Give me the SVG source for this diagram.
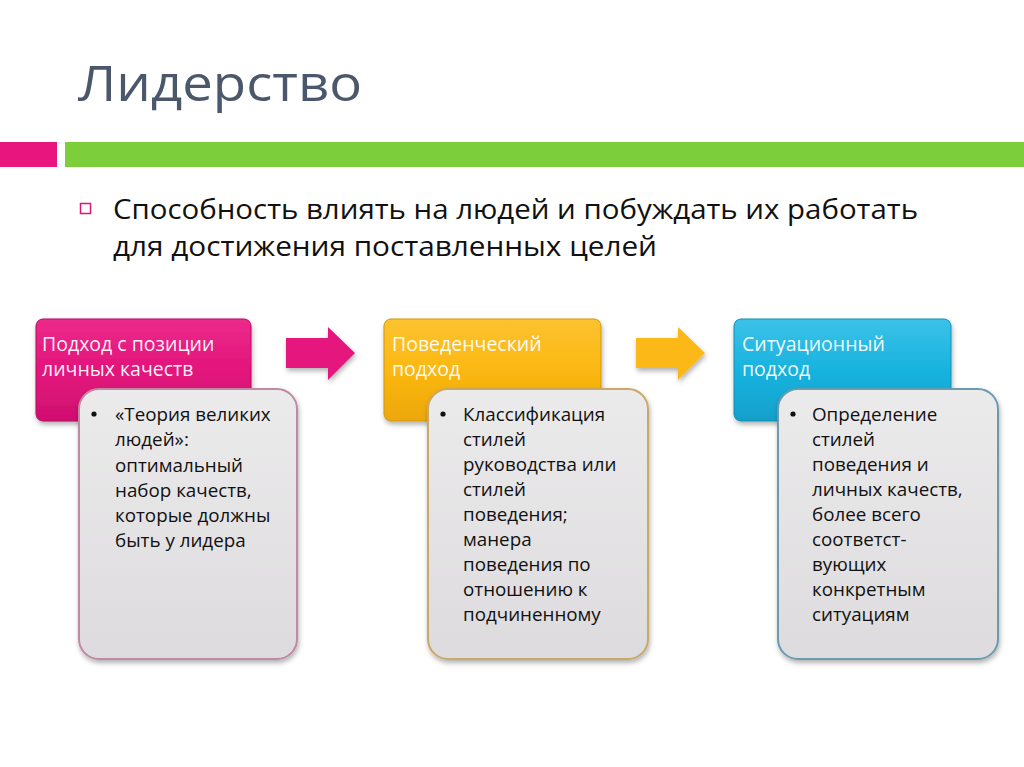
<svg xmlns="http://www.w3.org/2000/svg" width="1024" height="767" viewBox="0 0 1024 767">
<style>
.title{font-family:"Open Sans","Liberation Sans",sans-serif;font-size:50px;fill:#4b586b}
.sub{font-family:"Open Sans","Liberation Sans",sans-serif;font-size:28px;fill:#111}
.hdr{font-family:"Open Sans","Liberation Sans",sans-serif;font-size:19.5px;fill:#fff;fill-opacity:0.95}
.body{font-family:"Open Sans","Liberation Sans",sans-serif;font-size:18.8px;fill:#111}
.card{fill:url(#gray);stroke-width:2}
</style>
<defs>
<linearGradient id="gray" x1="0" y1="0" x2="0" y2="1">
<stop offset="0" stop-color="#ecebec"/>
<stop offset="1" stop-color="#dddbdd"/>
</linearGradient>
<linearGradient id="pinkG" x1="0" y1="0" x2="0" y2="1">
<stop offset="0" stop-color="#ec2a8a"/>
<stop offset="0.5" stop-color="#e3157c"/>
<stop offset="1" stop-color="#d01070"/>
</linearGradient>
<linearGradient id="yelG" x1="0" y1="0" x2="0" y2="1">
<stop offset="0" stop-color="#fcc330"/>
<stop offset="0.5" stop-color="#fbb812"/>
<stop offset="1" stop-color="#eda709"/>
</linearGradient>
<linearGradient id="bluG" x1="0" y1="0" x2="0" y2="1">
<stop offset="0" stop-color="#3cc2e8"/>
<stop offset="0.5" stop-color="#18b3df"/>
<stop offset="1" stop-color="#11a0cb"/>
</linearGradient>
<filter id="sh" x="-10%" y="-10%" width="130%" height="130%">
<feDropShadow dx="1" dy="3" stdDeviation="2.5" flood-color="#000" flood-opacity="0.3"/>
</filter>
</defs>
<rect width="1024" height="767" fill="#fff"/>

<g id="header">
<text class="title" x="78" y="101" textLength="284" lengthAdjust="spacingAndGlyphs">Лидерство</text>
<rect x="0" y="142" width="57" height="25" fill="#e8157e"/>
<rect x="65" y="142" width="959" height="25" fill="#7ccf3b"/>
<rect x="80.5" y="203.5" width="10" height="10" fill="none" stroke="#e0157a" stroke-width="1.5"/>
<text class="sub" x="113" y="219" textLength="805" lengthAdjust="spacingAndGlyphs">Способность влиять на людей и побуждать их работать</text>
<text class="sub" x="113" y="256" textLength="544" lengthAdjust="spacingAndGlyphs">для достижения поставленных целей</text>
</g>

<g id="connectors">
<polygon points="286,338 328,338 328,327 355,353 328,380 328,368 286,368" fill="#e6177f" filter="url(#sh)"/>
<polygon points="636,338 678,338 678,327 705,353 678,380 678,368 636,368" fill="#fbb812" filter="url(#sh)"/>
</g>

<g id="node1">
<rect x="36" y="319" width="215" height="102" rx="7" fill="url(#pinkG)" stroke="#b80d62" stroke-width="1" filter="url(#sh)"/>
<text class="hdr" x="42" y="351">Подход с позиции</text>
<text class="hdr" x="42" y="376">личных качеств</text>
<rect class="card" x="79" y="389" width="218" height="270" rx="20" stroke="#c08aa4" filter="url(#sh)"/>
<circle cx="94" cy="414" r="2.6" fill="#111"/>
<text class="body" x="115" y="421">«Теория великих</text>
<text class="body" x="115" y="446">людей»:</text>
<text class="body" x="115" y="472">оптимальный</text>
<text class="body" x="115" y="497">набор качеств,</text>
<text class="body" x="115" y="522">которые должны</text>
<text class="body" x="115" y="547">быть у лидера</text>
</g>

<g id="node2">
<rect x="384" y="319" width="217" height="102" rx="7" fill="url(#yelG)" stroke="#d4950a" stroke-width="1" filter="url(#sh)"/>
<text class="hdr" x="392" y="351">Поведенческий</text>
<text class="hdr" x="392" y="376">подход</text>
<rect class="card" x="428" y="389" width="220" height="270" rx="20" stroke="#c9a968" filter="url(#sh)"/>
<circle cx="443" cy="414" r="2.6" fill="#111"/>
<text class="body" x="463" y="421">Классификация</text>
<text class="body" x="463" y="446">стилей</text>
<text class="body" x="463" y="471">руководства или</text>
<text class="body" x="463" y="496">стилей</text>
<text class="body" x="463" y="521">поведения;</text>
<text class="body" x="463" y="546">манера</text>
<text class="body" x="463" y="571">поведения по</text>
<text class="body" x="463" y="596">отношению к</text>
<text class="body" x="463" y="621">подчиненному</text>
</g>

<g id="node3">
<rect x="734" y="319" width="217" height="102" rx="7" fill="url(#bluG)" stroke="#0f8fb6" stroke-width="1" filter="url(#sh)"/>
<text class="hdr" x="742" y="351">Ситуационный</text>
<text class="hdr" x="742" y="376">подход</text>
<rect class="card" x="778" y="389" width="220" height="270" rx="20" stroke="#6a9bae" filter="url(#sh)"/>
<circle cx="793" cy="414" r="2.6" fill="#111"/>
<text class="body" x="812" y="421">Определение</text>
<text class="body" x="812" y="446">стилей</text>
<text class="body" x="812" y="471">поведения и</text>
<text class="body" x="812" y="496">личных качеств,</text>
<text class="body" x="812" y="521">более всего</text>
<text class="body" x="812" y="546">соответст-</text>
<text class="body" x="812" y="571">вующих</text>
<text class="body" x="812" y="596">конкретным</text>
<text class="body" x="812" y="621">ситуациям</text>
</g>
</svg>
